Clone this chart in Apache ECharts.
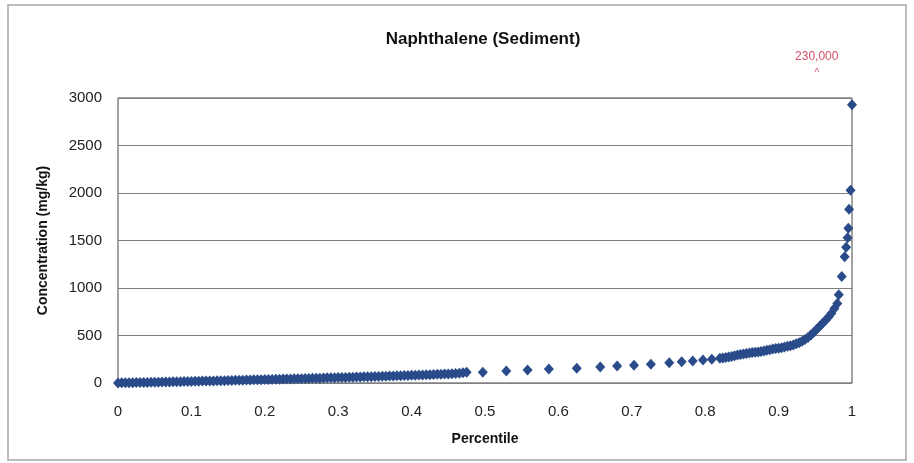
<!DOCTYPE html>
<html>
<head>
<meta charset="utf-8">
<style>
  html, body { margin: 0; padding: 0; background: #fff; }
  #chart { width: 914px; height: 463px; }
</style>
<script src="https://cdn.jsdelivr.net/npm/echarts@6/dist/echarts.min.js"></script>
</head>
<body>
<div id="chart"></div>
<script>
// Naphthalene concentrations in sediment, ranked by percentile
const percentile = [
  0.000, 0.005, 0.010, 0.015, 0.020, 0.025, 0.030, 0.035, 0.040, 0.045,
  0.050, 0.055, 0.060, 0.065, 0.070, 0.075, 0.080, 0.085, 0.090, 0.095,
  0.100, 0.105, 0.110, 0.115, 0.120, 0.125, 0.130, 0.135, 0.140, 0.145,
  0.150, 0.155, 0.160, 0.165, 0.170, 0.175, 0.180, 0.185, 0.190, 0.195,
  0.200, 0.205, 0.210, 0.215, 0.220, 0.225, 0.230, 0.235, 0.240, 0.245,
  0.250, 0.255, 0.260, 0.265, 0.270, 0.275, 0.280, 0.285, 0.290, 0.295,
  0.300, 0.305, 0.310, 0.315, 0.320, 0.325, 0.330, 0.335, 0.340, 0.345,
  0.350, 0.355, 0.360, 0.365, 0.370, 0.375, 0.380, 0.385, 0.390, 0.395,
  0.400, 0.405, 0.410, 0.415, 0.420, 0.425, 0.430, 0.435, 0.440, 0.445,
  0.450, 0.455, 0.460, 0.465, 0.470, 0.475,
  0.497, 0.529, 0.558, 0.587, 0.625, 0.657, 0.680, 0.703, 0.726, 0.751,
  0.768, 0.783, 0.797, 0.809, 0.820,
  0.824, 0.828, 0.832, 0.836, 0.840, 0.844, 0.848, 0.852, 0.856, 0.860,
  0.864, 0.868, 0.872, 0.876, 0.880, 0.884, 0.888, 0.892, 0.896, 0.900,
  0.904, 0.908, 0.912, 0.916, 0.920, 0.924, 0.928, 0.932, 0.936, 0.940,
  0.944, 0.948, 0.952, 0.956, 0.960, 0.964, 0.968, 0.972, 0.976, 0.980,
  0.982,
  0.986, 0.990, 0.992, 0.994, 0.995, 0.996, 0.998, 1.000
];

const concentration = [
  1, 2, 2, 3, 3, 4, 5, 6, 6, 7,
  8, 9, 10, 10, 11, 12, 13, 14, 15, 16,
  17, 18, 19, 20, 21, 21, 22, 23, 24, 25,
  26, 27, 28, 29, 30, 31, 32, 33, 34, 35,
  36, 37, 38, 39, 40, 41, 42, 43, 44, 45,
  46, 47, 48, 49, 50, 51, 52, 54, 55, 56,
  57, 58, 59, 60, 61, 62, 63, 65, 66, 67,
  68, 69, 70, 72, 73, 74, 76, 77, 78, 80,
  81, 82, 84, 85, 87, 88, 90, 91, 93, 94,
  96, 98, 100, 103, 107, 112,
  113, 126, 137, 147, 155, 168, 179, 186, 197, 214,
  224, 232, 242, 249, 260,
  262, 268, 274, 280, 288, 295, 300, 305, 311, 316,
  320, 324, 327, 332, 338, 344, 350, 357, 362, 367,
  372, 379, 386, 393, 401, 412, 425, 440, 458, 478,
  505, 535, 565, 598, 628, 660, 695, 735, 785, 838,
  930,
  1120, 1330, 1430, 1530, 1630, 1830, 2030, 2930
];

// Axis ticks
const xTicks = [0, 0.1, 0.2, 0.3, 0.4, 0.5, 0.6, 0.7, 0.8, 0.9, 1];
const yTicks = [0, 500, 1000, 1500, 2000, 2500, 3000];

// Off-scale maximum shown as a note above the plot
const offScaleNote = '230,000';
const offScaleAt = [0.952, 3000];

const points = percentile.map((p, i) => [p, concentration[i]]);

const FONT = '"Liberation Sans", Arial, sans-serif';

const chart = echarts.init(document.getElementById('chart'), null, { renderer: 'canvas' });

chart.setOption({
  animation: false,
  backgroundColor: '#ffffff',
  title: {
    text: 'Naphthalene (Sediment)',
    left: 478,
    textAlign: 'center',
    top: 26,
    textStyle: { fontFamily: FONT, fontSize: 17, fontWeight: 'bold', color: '#111' }
  },
  grid: {
    left: 118, right: 62, top: 98, bottom: 80,
    show: true, borderColor: '#444', borderWidth: 1, backgroundColor: 'transparent'
  },
  xAxis: {
    type: 'value',
    min: xTicks[0], max: xTicks[xTicks.length - 1], interval: 0.1,
    name: 'Percentile',
    nameLocation: 'middle',
    nameGap: 49,
    nameTextStyle: { fontFamily: FONT, fontSize: 14, fontWeight: 'bold', color: '#111' },
    axisLine: { show: false },
    axisTick: { show: false },
    splitLine: { show: false },
    axisLabel: {
      margin: 21,
      fontFamily: FONT, fontSize: 15, color: '#222',
      formatter: v => String(+v.toFixed(1))
    }
  },
  yAxis: {
    type: 'value',
    min: yTicks[0], max: yTicks[yTicks.length - 1], interval: 500,
    name: 'Concentration (mg/kg)',
    nameLocation: 'middle',
    nameGap: 68,
    nameTextStyle: { fontFamily: FONT, fontSize: 14, fontWeight: 'bold', color: '#111' },
    axisLine: { show: false },
    axisTick: { show: false },
    splitLine: { show: true, lineStyle: { color: '#808080', width: 1 } },
    axisLabel: {
      margin: 16, fontFamily: FONT, fontSize: 15, color: '#222',
      formatter: v => String(v)
    }
  },
  series: [{
    type: 'scatter',
    data: points,
    symbol: 'diamond',
    symbolSize: [10, 11],
    itemStyle: { color: '#2a4b8a', opacity: 1 },
    clip: false,
    z: 3
  }]
});

// Place the off-scale note and outer frame once the grid is laid out
const notePos = chart.convertToPixel({ gridIndex: 0 }, offScaleAt);
chart.setOption({
  graphic: [
    {
      type: 'rect',
      shape: { x: 8, y: 5, width: 898, height: 455 },
      style: { fill: 'none', stroke: '#a8a8a8', lineWidth: 1.5 },
      silent: true
    },
    {
      type: 'text',
      x: notePos[0], y: notePos[1] - 41,
      style: {
        text: offScaleNote, fill: '#d4506a', font: '12px ' + FONT,
        textAlign: 'center', textVerticalAlign: 'middle'
      }
    },
    {
      type: 'text',
      x: notePos[0], y: notePos[1] - 25,
      style: {
        text: '^', fill: '#d4506a', font: '10px ' + FONT,
        textAlign: 'center', textVerticalAlign: 'middle'
      }
    }
  ]
});
</script>
</body>
</html>
